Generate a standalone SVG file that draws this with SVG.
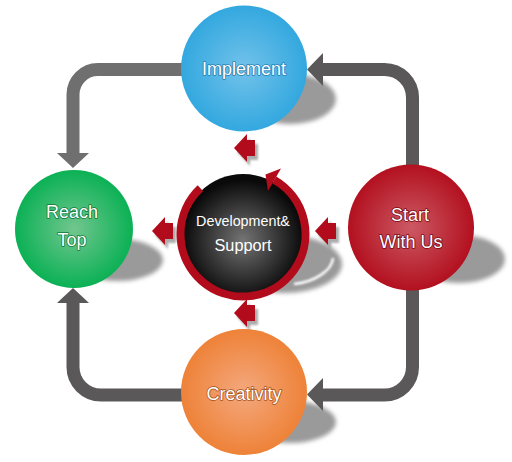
<svg xmlns="http://www.w3.org/2000/svg" width="512" height="462" viewBox="0 0 512 462">
  <defs>
    <radialGradient id="gBlue" cx="0.5" cy="0.5" r="0.5">
      <stop offset="0" stop-color="#72c2ea"/>
      <stop offset="1" stop-color="#33a8df"/>
    </radialGradient>
    <radialGradient id="gGreen" cx="0.5" cy="0.5" r="0.5">
      <stop offset="0" stop-color="#72c68f"/>
      <stop offset="1" stop-color="#0bb155"/>
    </radialGradient>
    <radialGradient id="gRed" cx="0.5" cy="0.5" r="0.5">
      <stop offset="0" stop-color="#cb5a64"/>
      <stop offset="1" stop-color="#b3101f"/>
    </radialGradient>
    <radialGradient id="gOrange" cx="0.5" cy="0.5" r="0.5">
      <stop offset="0" stop-color="#f4a87e"/>
      <stop offset="1" stop-color="#ee8238"/>
    </radialGradient>
    <radialGradient id="gBlack" cx="0.5" cy="0.55" r="0.5">
      <stop offset="0" stop-color="#747474"/>
      <stop offset="1" stop-color="#0a0a0a"/>
    </radialGradient>
    <filter id="blur" x="-20%" y="-20%" width="140%" height="140%">
      <feGaussianBlur stdDeviation="2"/>
    </filter>
    <filter id="blurS" x="-30%" y="-30%" width="160%" height="160%">
      <feGaussianBlur stdDeviation="1.2"/>
    </filter>
    <path id="redArrow" d="M0,0 L13,-14 L13,-8 L21,-8 L21,8 L13,8 L13,14 Z"/>
  </defs>
  <style>
    .shadow { fill: #9a9a9a; filter: url(#blur); }
    .conn { fill: none; stroke-width: 13; }
    .c1 { stroke: #6f6f6f; }
    .c2 { stroke: #5a5859; }
    .h1 { fill: #6f6f6f; }
    .h2 { fill: #5a5859; }
    .lbl { font-family: "Liberation Sans", Arial, sans-serif; fill: #ffffff; text-anchor: middle; font-size: 18px; paint-order: stroke; stroke-width: 1.6; stroke-linejoin: round; }
    .ra { fill: #b20b1b; }
    .ras { fill: #8a8a8a; filter: url(#blurS); opacity: 0.7; }
  </style>

  <!-- shadows -->
  <g id="shadows">
    <ellipse class="shadow" cx="290" cy="99" rx="46" ry="25"/>
    <ellipse class="shadow" cx="118" cy="260" rx="45" ry="21"/>
    <ellipse class="shadow" cx="459" cy="259" rx="46" ry="24"/>
    <ellipse class="shadow" cx="290" cy="422" rx="46" ry="21"/>
    <ellipse class="shadow" cx="284" cy="264" rx="58" ry="29"/>
    <path d="M294,284 C314,282 332,271 333,258" fill="none" stroke="#ffffff" stroke-width="2.5" filter="url(#blurS)"/>
  </g>

  <!-- connectors -->
  <g id="connectors">
    <path class="conn c1" d="M183,69.5 H98 A25,25 0 0 0 73,94.5 V154"/>
    <polygon class="h1" points="57,153 89,153 73,168"/>
    <path class="conn c2" d="M412.5,166 V97.5 A28,28 0 0 0 384.5,69.5 H322"/>
    <polygon class="h2" points="323,53 323,86 307,69.5"/>
    <path class="conn c2" d="M412.5,289 V367 A28,28 0 0 1 384.5,395 H322"/>
    <polygon class="h2" points="323,378 323,411 307,394.5"/>
    <path class="conn c2" d="M183,395 H101 A28,28 0 0 1 73,367 V302"/>
    <polygon class="h2" points="57,303 89,303 73,288"/>
  </g>

  <!-- small red arrows -->
  <g id="red-arrows">
    <use href="#redArrow" class="ras" x="237" y="152"/>
    <use href="#redArrow" class="ras" x="155" y="235"/>
    <use href="#redArrow" class="ras" x="318" y="235"/>
    <use href="#redArrow" class="ras" x="237" y="317"/>
    <use href="#redArrow" class="ra" x="234" y="148"/>
    <use href="#redArrow" class="ra" x="152" y="231"/>
    <use href="#redArrow" class="ra" x="315" y="231"/>
    <use href="#redArrow" class="ra" x="234" y="313"/>
  </g>

  <g id="node-implement">
    <circle cx="244" cy="68.5" r="63" fill="url(#gBlue)"/>
    <text class="lbl" x="244" y="75" stroke="#2580b3">Implement</text>
  </g>

  <g id="node-reach">
    <circle cx="74" cy="229" r="59" fill="url(#gGreen)"/>
    <text class="lbl" x="72" y="218" stroke="#0a7a3a">Reach</text>
    <text class="lbl" x="72" y="246" stroke="#0a7a3a">Top</text>
  </g>

  <g id="node-start">
    <circle cx="411" cy="227.5" r="63" fill="url(#gRed)"/>
    <text class="lbl" x="410" y="221" stroke="#7a0812">Start</text>
    <text class="lbl" x="411" y="248" stroke="#7a0812">With Us</text>
  </g>

  <g id="node-creativity">
    <circle cx="244" cy="392" r="63" fill="url(#gOrange)"/>
    <text class="lbl" x="244" y="400" stroke="#a4521c">Creativity</text>
  </g>

  <g id="node-development">
    <circle cx="243" cy="234" r="60" fill="url(#gBlack)"/>
    <path d="M200.4,188.3 A62.5,62.5 0 1 0 274.25,179.9" fill="none" stroke="#b20b1b" stroke-width="8"/>
    <polygon points="281,168.5 268,191 265.5,174.5" fill="#b20b1b"/>
    <text x="243" y="226" font-family="Liberation Sans, Arial, sans-serif" font-size="14.3" fill="#ffffff" text-anchor="middle">Development&amp;</text>
    <text x="243" y="251" font-family="Liberation Sans, Arial, sans-serif" font-size="16.3" fill="#ffffff" text-anchor="middle">Support</text>
  </g>
</svg>
